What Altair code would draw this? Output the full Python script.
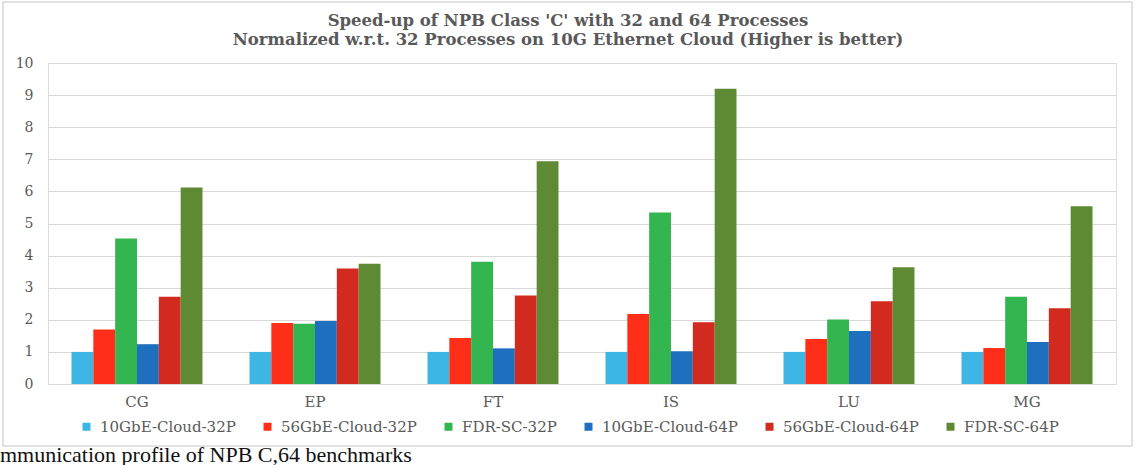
import altair as alt
import pandas as pd

benchmarks = ["CG", "EP", "FT", "IS", "LU", "MG"]
series = ["10GbE-Cloud-32P", "56GbE-Cloud-32P", "FDR-SC-32P",
          "10GbE-Cloud-64P", "56GbE-Cloud-64P", "FDR-SC-64P"]

cloud10_32 = [1.00, 1.00, 1.00, 1.00, 1.00, 1.00]
cloud56_32 = [1.70, 1.90, 1.43, 2.18, 1.40, 1.12]
fdr_32 = [4.53, 1.88, 3.81, 5.34, 2.01, 2.72]
cloud10_64 = [1.24, 1.96, 1.11, 1.02, 1.65, 1.31]
cloud56_64 = [2.72, 3.60, 2.76, 1.92, 2.58, 2.36]
fdr_64 = [6.12, 3.75, 6.94, 9.20, 3.64, 5.54]

colors = ["#3DB6E6", "#FF2E18", "#33B550", "#1E6FBE", "#D22A1E", "#5E8A34"]
y_ticks = [0, 1, 2, 3, 4, 5, 6, 7, 8, 9, 10]
title_lines = ["Speed-up of NPB Class 'C' with 32 and 64 Processes",
               "Normalized w.r.t. 32 Processes on 10G Ethernet Cloud (Higher is better)"]
caption = "mmunication profile of NPB C,64 benchmarks"

rows = []
for name, vals in zip(series, [cloud10_32, cloud56_32, fdr_32, cloud10_64, cloud56_64, fdr_64]):
    for b, v in zip(benchmarks, vals):
        rows.append({"benchmark": b, "series": name, "speedup": v})
df = pd.DataFrame(rows)

FONT = "DejaVu Serif"
GRAY = "#595959"
GRID = "#D9D9D9"

bars = alt.Chart(df).mark_bar().encode(
    x=alt.X("benchmark:N", sort=benchmarks,
            scale=alt.Scale(paddingInner=0.264, paddingOuter=0.132),
            axis=alt.Axis(title=None, labelAngle=0, ticks=False, domainColor=GRID,
                          labelPadding=10, labelFont=FONT, labelFontSize=15,
                          labelColor=GRAY, grid=False)),
    xOffset=alt.XOffset("series:N", sort=series,
                        scale=alt.Scale(paddingInner=0, paddingOuter=0)),
    y=alt.Y("speedup:Q", scale=alt.Scale(domain=[0, 10], nice=False),
            axis=alt.Axis(title=None, values=y_ticks, domain=False, ticks=False,
                          gridColor=GRID, labelPadding=15, labelFont=FONT,
                          labelFontSize=14, labelColor=GRAY)),
    color=alt.Color("series:N", sort=series,
                    scale=alt.Scale(domain=series, range=colors),
                    legend=alt.Legend(title=None, orient="none", legendX=31, legendY=356,
                                      direction="horizontal", columns=6,
                                      symbolType="square", symbolSize=64,
                                      symbolStrokeWidth=0, labelFont=FONT,
                                      labelFontSize=15, labelColor=GRAY,
                                      labelOffset=6, columnPadding=24,
                                      labelLimit=300)),
)

border = alt.Chart(alt.Data(values=[{}])).mark_rect(
    fill="transparent", stroke=GRID, strokeWidth=1.5
).encode(
    x=alt.value(-45), x2=alt.value(1084), y=alt.value(-61), y2=alt.value(383)
)

cap = alt.Chart(alt.Data(values=[{"t": caption}])).mark_text(
    align="left", baseline="alphabetic", font="Liberation Serif", fontSize=22, color="#111111"
).encode(
    x=alt.value(-48), y=alt.value(399), text="t:N"
)

chart = alt.layer(border, bars, cap).properties(
    width=1068, height=321,
    title=alt.Title(title_lines, anchor="middle", frame="group", dx=-14, dy=63, offset=16,
                    font=FONT, fontSize=16.5, fontWeight="bold", color=GRAY,
                    lineHeight=18.5),
    padding={"left": 48, "top": 63, "right": 21, "bottom": 81},
    autosize=alt.AutoSizeParams(type="none"),
).configure_view(stroke=None).configure(background="white")

chart.save("out.html", embed_options={"renderer": "svg", "actions": False})
